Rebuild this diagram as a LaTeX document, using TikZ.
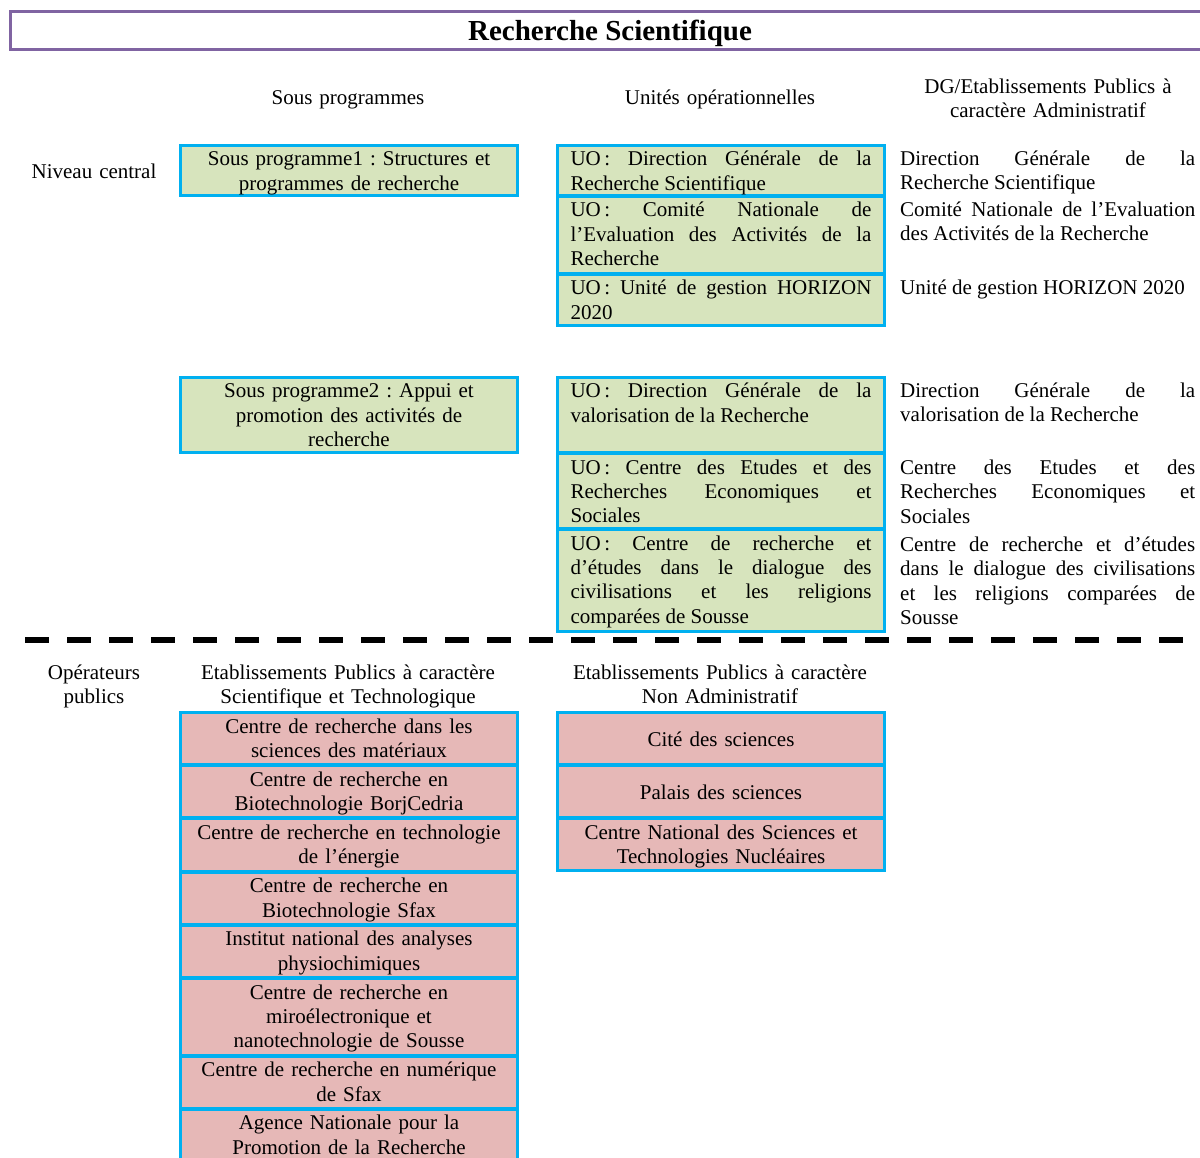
\documentclass[tikz,border=0pt]{standalone}
\usepackage{fontspec}
\setmainfont{Liberation Serif}
\usepackage{xcolor}
\usepackage{tikz}

\definecolor{bordcyan}{HTML}{00B0F0}
\definecolor{vertuo}{HTML}{D7E4BD}
\definecolor{roseep}{HTML}{E6B8B7}
\definecolor{violettitre}{HTML}{8064A2}
\hyphenpenalty=10000
\exhyphenpenalty=10000
\frenchspacing

\begin{document}
\begin{tikzpicture}[
  x=1pt, y=-1pt,
  font=\fontsize{21}{24.4}\selectfont,
  every node/.append style={text height=15pt},
  cbox/.style   = {draw=bordcyan, line width=3pt, anchor=north west,
                   inner xsep=13pt, inner ysep=5.5pt},
  gbox/.style   = {cbox, fill=vertuo},
  pbox/.style   = {cbox, fill=roseep},
  wide/.style   = {text width=311pt, align=center},
  narrow/.style = {text width=301pt, align=justify},
  boxh/.style   = {text depth=#1-26},
  midh/.style   = {minimum height=#1, text depth=0pt},
  lbl/.style    = {anchor=north, align=center, text width=#1, inner sep=0pt},
  jtxt/.style   = {anchor=north west, text width=295pt, align=justify, inner sep=0pt},
  dashsep/.style = {line width=6pt, dash pattern=on 23.5pt off 18.5pt},
  titlebox/.style = {draw=violettitre, line width=3pt, anchor=north west,
                     minimum width=1199pt, minimum height=38pt,
                     text height=21pt, text depth=0pt,
                     font=\fontsize{29}{30}\selectfont\bfseries},
]
\useasboundingbox (0,0) rectangle (1200,1158);
\clip (0,0) rectangle (1200,1158);

%% ── Title ─────────────────────────────────────────────────────────────────
\node[titlebox] (titre) at (9,10) {Recherche Scientifique};

%% ── Column headers ────────────────────────────────────────────────────────
\node[lbl=340pt] (hsp)  at (348,89)  {Sous programmes};
\node[lbl=330pt] (huo)  at (720,89)  {Unités opérationnelles};
\node[lbl=300pt] (hdg)  at (1048,78) {DG/Etablissements Publics à\\caractère Administratif};
\node[lbl=160pt] (hniv) at (94,163)  {Niveau central};

%% ── Sous programmes ───────────────────────────────────────────────────────
\node[gbox, wide, boxh=50] (sp1) at (179,144)
  {Sous programme1 : Structures et\\programmes de recherche};
\node[gbox, wide, boxh=75] (sp2) at (179,376)
  {Sous programme2 : Appui et\\promotion des activités de\\recherche};

%% ── Unités opérationnelles ────────────────────────────────────────────────
\node[gbox, narrow, boxh=50] (uo1) at (556,144)
  {UO\,: Direction Générale de la\linebreak Recherche Scientifique};
\node[gbox, narrow, boxh=77] (uo2) at (556,195)
  {UO\,: Comité Nationale de\linebreak l’Evaluation des Activités de la\linebreak Recherche};
\node[gbox, narrow, boxh=51] (uo3) at (556,273)
  {UO\,: Unité de gestion HORIZON\linebreak 2020};

\node[gbox, narrow, boxh=75] (uo4) at (556,376)
  {UO\,: Direction Générale de la\linebreak valorisation de la Recherche};
\node[gbox, narrow, boxh=75] (uo5) at (556,452)
  {UO\,: Centre des Etudes et des\linebreak Recherches Economiques et\linebreak Sociales};
\node[gbox, narrow, boxh=102] (uo6) at (556,528)
  {UO\,: Centre de recherche et\linebreak d’études dans le dialogue des\linebreak civilisations et les religions\linebreak comparées de Sousse};

%% ── DG / EPA ──────────────────────────────────────────────────────────────
\node[jtxt] (dg1) at (900,150)
  {Direction Générale de la\linebreak Recherche Scientifique};
\node[jtxt] (dg2) at (900,201)
  {Comité Nationale de l’Evaluation\linebreak des Activités de la Recherche};
\node[jtxt] (dg3) at (900,279)
  {Unité de gestion HORIZON 2020};
\node[jtxt] (dg4) at (900,382)
  {Direction Générale de la\linebreak valorisation de la Recherche};
\node[jtxt] (dg5) at (900,459)
  {Centre des Etudes et des\linebreak Recherches Economiques et\linebreak Sociales};
\node[jtxt] (dg6) at (900,536)
  {Centre de recherche et d’études\linebreak dans le dialogue des civilisations\linebreak et les religions comparées de\linebreak Sousse};

%% ── Separator ─────────────────────────────────────────────────────────────
\coordinate (sepg) at (25,640);
\coordinate (sepd) at (1185,640);
\draw[dashsep] (sepg) -- (sepd);

%% ── Opérateurs publics: headers ───────────────────────────────────────────
\node[lbl=160pt] (hop)   at (94,664)  {Opérateurs\\publics};
\node[lbl=340pt] (hepst) at (348,664) {Etablissements Publics à caractère\\Scientifique et Technologique};
\node[lbl=330pt] (hepna) at (720,664) {Etablissements Publics à caractère\\Non Administratif};

%% ── EPST ──────────────────────────────────────────────────────────────────
\node[pbox, wide, boxh=52.2] (ep1) at (179,711)
  {Centre de recherche dans les\\sciences des matériaux};
\node[pbox, wide, boxh=52.2] (ep2) at (179,764.2)
  {Centre de recherche en\\Biotechnologie BorjCedria};
\node[pbox, wide, boxh=52.2] (ep3) at (179,817.4)
  {Centre de recherche en technologie\\de l’énergie};
\node[pbox, wide, boxh=52.2] (ep4) at (179,870.6)
  {Centre de recherche en\\Biotechnologie Sfax};
\node[pbox, wide, boxh=52.2] (ep5) at (179,923.8)
  {Institut national des analyses\\physiochimiques};
\node[pbox, wide, boxh=76.6] (ep6) at (179,977)
  {Centre de recherche en\\miroélectronique et\\nanotechnologie de Sousse};
\node[pbox, wide, boxh=52.2] (ep7) at (179,1054.6)
  {Centre de recherche en numérique\\de Sfax};
\node[pbox, wide, boxh=52.2] (ep8) at (179,1107.8)
  {Agence Nationale pour la\\Promotion de la Recherche};

%% ── EPNA ──────────────────────────────────────────────────────────────────
\node[pbox, wide, text width=301pt, midh=52.2pt] (na1) at (556,711)
  {Cité des sciences};
\node[pbox, wide, text width=301pt, midh=52.2pt] (na2) at (556,764.2)
  {Palais des sciences};
\node[pbox, wide, text width=301pt, boxh=52] (na3) at (556,817.4)
  {Centre National des Sciences et\\Technologies Nucléaires};

\end{tikzpicture}
\end{document}
